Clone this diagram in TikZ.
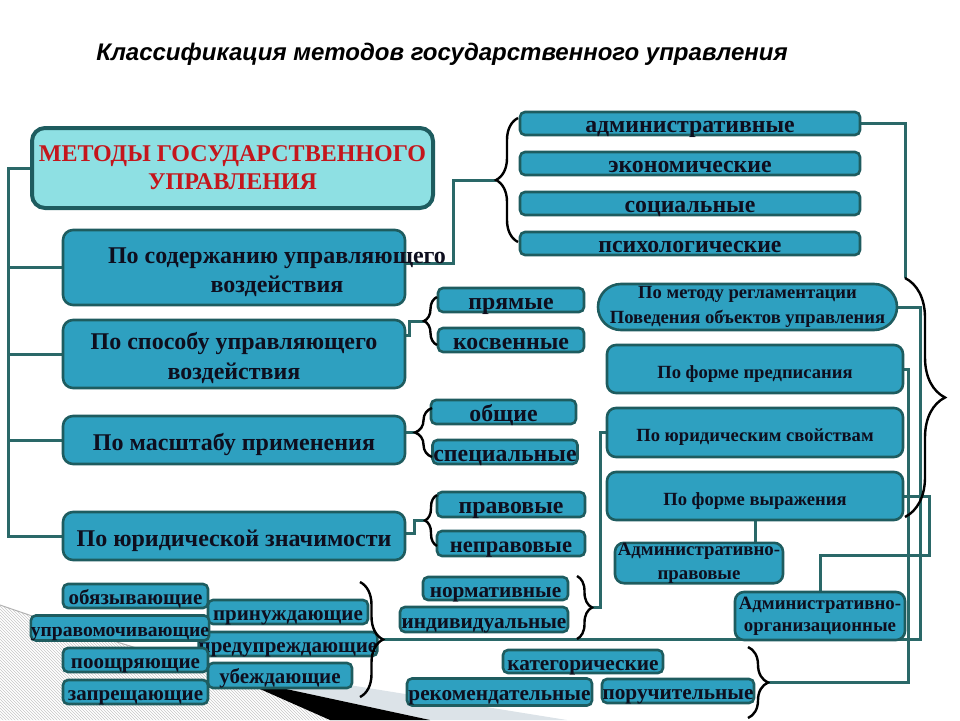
\documentclass[tikz,border=0pt]{standalone}
\usepackage{fontspec}
\setmainfont{Liberation Serif}
\newfontfamily\titlefont{Liberation Sans}
\usetikzlibrary{decorations.pathreplacing,patterns,calc}
\pgfdeclarelayer{deco}
\pgfdeclarelayer{bg}
\pgfsetlayers{deco,bg,main}
\definecolor{bord}{HTML}{1E5C5F}
\definecolor{boxfill}{HTML}{2EA0C0}
\definecolor{mainfill}{HTML}{8EE0E3}
\definecolor{conncol}{HTML}{2A6868}
\definecolor{txt}{HTML}{0E0E1E}
\definecolor{redtxt}{HTML}{C4161C}
\definecolor{bandcol}{HTML}{DCE3E8}
\tikzset{
 basebox/.style={draw=bord, line width=2.6pt, fill=boxfill, inner sep=0pt, text=txt},
 sbox/.style={basebox, rounded corners=5pt, font=\fontsize{23.8}{26}\selectfont\bfseries, text height=18pt, text depth=0pt},
 nbox/.style={sbox, font=\fontsize{21.3}{26}\selectfont\bfseries, text height=17pt},
 qbox/.style={basebox, rounded corners=5pt, font=\fontsize{21}{24}\selectfont\bfseries, text height=16.5pt, text depth=0pt},
 lbox/.style={basebox, rounded corners=10pt},
 lboxone/.style={basebox, rounded corners=10pt, font=\fontsize{24}{28}\selectfont\bfseries, text height=20pt, text depth=0pt},
 rbox/.style={basebox, rounded corners=9pt, font=\fontsize{18.6}{24}\selectfont\bfseries, text height=18.5pt, text depth=0pt},
 rboxtwo/.style={basebox, rounded corners=9pt, align=center, font=\fontsize{18.8}{24}\selectfont\bfseries},
 mainbox/.style={draw=bord, line width=4pt, fill=mainfill, rounded corners=13pt, inner sep=0pt, text=redtxt, align=center, font=\fontsize{24}{28}\selectfont\bfseries},
 boxtext/.style={inner sep=0pt, text=txt, align=center, font=\fontsize{24}{29}\selectfont\bfseries},
 conn/.style={draw=conncol, line width=3pt},
 brc/.style={draw=black, line width=2.4pt, decorate, decoration={brace, amplitude=#1}},
}
\begin{document}
\begin{tikzpicture}[x=1pt,y=-1pt]
\useasboundingbox (0,0) rectangle (960,720);
% decorative background
\begin{pgfonlayer}{deco}
\fill[pattern=north west lines, pattern color=gray!45] (0,605) -- (35,617) -- (235,678) -- (330,720) -- (0,720) -- cycle;
\draw[gray!60, line width=1pt] (0,605) -- (35,617) -- (235,678);
\fill[bandcol] (200,661) -- (567,720) -- (430,720) -- (235,678) -- cycle;
\fill[black] (235,678) -- (430,720) -- (330,720) -- cycle;
\end{pgfonlayer}

% title
\node[font=\titlefont\fontsize{24}{28}\selectfont\bfseries\itshape] (title) at (442,54) {Классификация методов государственного управления};

% main box
\node[mainbox, minimum width=401pt, minimum height=80pt] (main) at (232.5,168) {МЕТОДЫ ГОСУДАРСТВЕННОГО\\УПРАВЛЕНИЯ};

% left column
\node[lbox, minimum width=342pt, minimum height=75pt] (b1) at (234,267.5) {};
\node[lbox, minimum width=342pt, minimum height=68pt] (b2) at (234,354) {};
\node[lboxone, minimum width=342pt, minimum height=48pt] (b3) at (234,440) {По масштабу применения};
\node[lboxone, minimum width=342pt, minimum height=48pt] (b4) at (234,536) {По юридической значимости};

% top four
\node[sbox, minimum width=340pt, minimum height=23pt] (adm) at (690,123.5) {административные};
\node[sbox, minimum width=340pt, minimum height=23pt] (eco) at (690,163.5) {экономические};
\node[sbox, minimum width=340pt, minimum height=23pt] (soc) at (690,203.5) {социальные};
\node[sbox, minimum width=340pt, minimum height=23pt] (psy) at (690,243.5) {психологические};

% small pairs
\node[sbox, minimum width=146pt, minimum height=24pt] (pr) at (511,300) {прямые};
\node[sbox, minimum width=146pt, minimum height=24pt] (kos) at (511,340) {косвенные};
\node[sbox, minimum width=145pt, minimum height=24pt] (ob) at (503.5,412) {общие};
\node[sbox, minimum width=145pt, minimum height=24pt] (spec) at (505,452) {специальные};
\node[sbox, minimum width=148pt, minimum height=25pt] (prav) at (511,504.5) {правовые};
\node[sbox, minimum width=148pt, minimum height=25pt, font=\fontsize{22.5}{26}\selectfont\bfseries] (neprav) at (511,543.5) {неправовые};
\node[nbox, minimum width=145pt, minimum height=23pt] (norm) at (495.5,588.5) {нормативные};
\node[nbox, minimum width=168pt, minimum height=25pt] (ind) at (484,619.5) {индивидуальные};
\node[nbox, minimum width=160pt, minimum height=23pt] (kat) at (583,661.5) {категорические};
\node[nbox, minimum width=185pt, minimum height=27pt] (rek) at (499.5,692) {рекомендательные};
\node[nbox, minimum width=152pt, minimum height=24pt] (por) at (678,691) {поручительные};

% bottom-left group
\node[qbox, minimum width=160pt, minimum height=24pt] (prin) at (288,612) {принуждающие};
\node[qbox, minimum width=160pt, minimum height=24pt] (pred) at (288,644) {предупреждающие};
\node[qbox, minimum width=144pt, minimum height=25pt] (ub) at (280,675.5) {убеждающие};
\node[qbox, minimum width=145pt, minimum height=24pt] (obz) at (135.5,596) {обязывающие};
\node[qbox, minimum width=176pt, minimum height=25pt, font=\fontsize{19.6}{24}\selectfont\bfseries] (upr) at (120,628) {управомочивающие};
\node[qbox, minimum width=145pt, minimum height=24pt] (poo) at (135.5,660) {поощряющие};
\node[qbox, minimum width=145pt, minimum height=24pt] (zap) at (135.5,692) {запрещающие};

% right column
\node[rboxtwo, rounded corners=23pt, minimum width=299pt, minimum height=46pt, font=\fontsize{18.6}{25}\selectfont\bfseries] (met) at (747.5,307) {По методу регламентации\\Поведения объектов управления};
\node[rbox, minimum width=296pt, minimum height=48pt] (fp) at (755,369) {По форме предписания};
\node[rbox, minimum width=296pt, minimum height=49pt] (fu) at (755,432.5) {По юридическим свойствам};
\node[rbox, minimum width=296pt, minimum height=48pt] (fv) at (755,496) {По форме выражения};
\node[rboxtwo, minimum width=168pt, minimum height=40pt] (ap) at (699,563) {Административно-\\правовые};
\node[rboxtwo, minimum width=170pt, minimum height=48pt, font=\fontsize{18.8}{22}\selectfont\bfseries] (ao) at (820,616) {Административно-\\организационные};

% coordinates
\coordinate (tk) at (8,168);
\coordinate (br1tip) at (496,180);
\coordinate (br2tip) at (424,321);
\coordinate (br3tip) at (415,432.5);
\coordinate (br4tip) at (425,520.5);
\coordinate (brNtip) at (592,607.5);
\coordinate (brBtip) at (383,639.5);
\coordinate (brKtip) at (768,682.5);
\coordinate (bigTop) at (905,278);

\begin{pgfonlayer}{bg}
% trunk
\draw[conn] (main.west) -- (tk) -- (tk |- b4.west) -- (b4.west);
\foreach \n in {b1,b2,b3} \draw[conn] (\n.west) -- (\n.west -| tk);
% left boxes to braces
\draw[conn] ($(b1.east)+(0,-4)$) -- ++(47,0) |- (br1tip);
\draw[conn] ($(b2.east)+(0,-19)$) -- ++(3,0) |- (br2tip);
\draw[conn] ($(b3.east)+(0,-7.5)$) -- (br3tip);
\draw[conn] ($(b4.east)+(0,-3)$) -- ++(8,0) |- (br4tip);
% right side
\draw[conn] (adm.east) -| (bigTop);
\draw[conn] (brNtip) -- ++(8,0) |- (fu.west);
\draw[conn] (brBtip) -- ++(537,0) |- (met.east);
\draw[conn] (fp.east) -- ++(4,0) |- (brKtip);
\draw[conn] (fv.east) -- ++(25,0) -- ++(0,59) -| (ao.north);
\draw[conn] (fv.south) -- (fv.south |- ap.north);
\end{pgfonlayer}

% braces
\draw[brc=22] (518,242) -- (518,118);
\draw[brc=13] (437,345) -- (437,297);
\draw[brc=17] (432,457) -- (432,408);
\draw[brc=12] (437,546) -- (437,495);
\draw[brc=15] (577,576) -- (577,639);
\draw[brc=23] (360,582) -- (360,697);
\draw[brc=40] (905,278) -- (905,517);
\draw[brc=20] (748,647) -- (748,718);

% texts of b1 and b2 (offset from box centres)
\node[boxtext] (b1t) at (277,272) {По содержанию управляющего\\воздействия};
\node[boxtext, font=\fontsize{24}{30}\selectfont\bfseries] (b2t) at (234,358) {По способу управляющего\\воздействия};
\end{tikzpicture}
\end{document}
